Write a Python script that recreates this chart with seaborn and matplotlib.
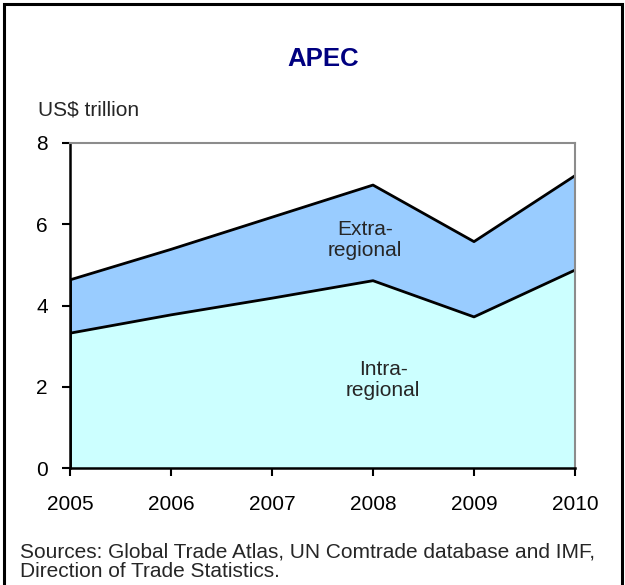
import matplotlib
matplotlib.use("Agg")
import matplotlib.pyplot as plt
import seaborn as sns
import pandas as pd
from matplotlib.patches import Rectangle

years = [2005, 2006, 2007, 2008, 2009, 2010]
intra = [3.32, 3.77, 4.18, 4.61, 3.72, 4.87]
total = [4.63, 5.38, 6.17, 6.96, 5.57, 7.19]
y_ticks = [0, 2, 4, 6, 8]

df = pd.DataFrame({"year": years, "intra": intra, "total": total})

sns.set_theme(style="white")
plt.rcParams["font.family"] = ["Liberation Sans", "DejaVu Sans"]

fig = plt.figure(figsize=(6.25, 5.85), dpi=100)
ax = fig.add_axes([0.112, 0.1995, 0.808, 0.5565])

ax.fill_between(df["year"], 0, df["intra"], color="#CCFFFF", linewidth=0)
ax.fill_between(df["year"], df["intra"], df["total"], color="#99CCFF", linewidth=0)
sns.lineplot(data=df, x="year", y="intra", color="black", linewidth=2, ax=ax)
sns.lineplot(data=df, x="year", y="total", color="black", linewidth=2, ax=ax)
ax.vlines([years[0], years[-1]], 0, [total[0], total[-1]], color="black", linewidth=2)

ax.set_xlim(years[0], years[-1])
ax.set_ylim(0, 8)
ax.set_xticks(years)
ax.set_yticks(y_ticks)
ax.set_xlabel("")
ax.set_ylabel("")
ax.tick_params(axis="both", which="major", direction="out", length=6, width=1.5,
               color="black", labelsize=15, labelcolor="black", bottom=True, left=True)
ax.tick_params(axis="x", pad=13)
ax.tick_params(axis="y", pad=10)

for side in ["left", "bottom"]:
    ax.spines[side].set_color("black")
    ax.spines[side].set_linewidth(1.8)
for side in ["top", "right"]:
    ax.spines[side].set_color("#8c8c8c")
    ax.spines[side].set_linewidth(1.5)

ax.text(2007.92, 5.61, "Extra-\nregional", ha="center", va="center", fontsize=15, linespacing=1.15)
ax.text(2008.1, 2.17, "Intra-\nregional", ha="center", va="center", fontsize=15, linespacing=1.15)

fig.text(0.517, 0.900, "APEC", ha="center", va="center", fontsize=18.5,
         fontweight="bold", color="#000080")
fig.text(0.061, 0.812, "US$ trillion", ha="left", va="center", fontsize=15)
fig.text(0.032, 0.040, "Sources: Global Trade Atlas, UN Comtrade database and IMF,\nDirection of Trade Statistics.",
         ha="left", va="center", fontsize=15, linespacing=1.08)

fig.patches.append(Rectangle((0.0064, -0.1), 0.9886, 1.0932, transform=fig.transFigure,
                             fill=False, edgecolor="black", linewidth=2.2, clip_on=False))

fig.savefig("out.png", dpi=100)
